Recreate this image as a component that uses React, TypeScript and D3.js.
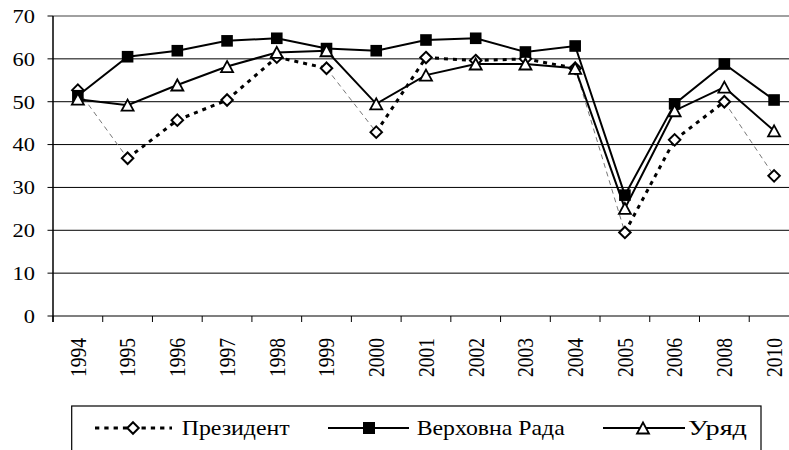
import React from "react";
import * as d3 from "d3";

const years = ["1994","1995","1996","1997","1998","1999","2000","2001","2002","2003","2004","2005","2006","2008","2010"];
const president = [52.7, 36.8, 45.7, 50.4, 60.4, 57.8, 42.9, 60.3, 59.6, 60.0, 57.8, 19.5, 41.1, 50.0, 32.7];
const rada = [51.4, 60.5, 61.9, 64.2, 64.8, 62.4, 61.9, 64.4, 64.8, 61.6, 63.0, 28.2, 49.5, 58.8, 50.4];
const uryad = [50.6, 49.2, 53.9, 58.2, 61.5, 61.9, 49.5, 56.2, 58.8, 58.8, 57.8, 25.1, 47.9, 53.4, 43.2];
const yTicks = [0, 10, 20, 30, 40, 50, 60, 70];
const legendLabels = ["Президент", "Верховна Рада", "Уряд"];

const FONT = "'Liberation Serif', 'Times New Roman', serif";

export default function App() {
  const W = 789, H = 450;
  const left = 53, top = 16, bottom = 316;
  const bandW = 49.73;
  const x = d3.scaleBand<string>().domain(years).range([left, left + bandW * years.length]).paddingInner(0).paddingOuter(0);
  const cx = (yr: string) => (x(yr) as number) + x.bandwidth() / 2;
  const y = d3.scaleLinear().domain([0, 70]).range([bottom, top]);
  const line = d3.line<number>().x((_, i) => cx(years[i])).y((v) => y(v));

  const triPath = (s: number) => {
    const h = s * 0.92;
    return `M0,${-h / 2}L${s / 2},${h / 2}L${-s / 2},${h / 2}Z`;
  };
  const diaPath = (s: number) => `M0,${-s / 2}L${s / 2},0L0,${s / 2}L${-s / 2},0Z`;

  const presSegs = president.slice(0, -1).map((v, i) => {
    const n = president[i + 1];
    const thin = n < v - 4;
    return { x1: cx(years[i]), y1: y(v), x2: cx(years[i + 1]), y2: y(n), thin };
  });

  const boundaries = years.map((yr) => x(yr) as number).concat([left + bandW * years.length]);

  return (
    <svg width={W} height={H} style={{ position: "absolute", left: 0, top: 0, background: "#fff", fontFamily: FONT }}>
      {/* gridlines */}
      {yTicks.filter((t) => t > 0 && t < 70).map((t) => (
        <line key={t} x1={left} x2={W} y1={y(t)} y2={y(t)} stroke="#000" strokeWidth={1} />
      ))}
      {/* top border */}
      <line x1={left} x2={W} y1={y(70)} y2={y(70)} stroke="#808080" strokeWidth={1.5} />
      {/* x axis */}
      <line x1={left} x2={W} y1={bottom} y2={bottom} stroke="#555" strokeWidth={1.5} />
      {boundaries.map((b, i) => (
        <line key={i} x1={b} x2={b} y1={bottom} y2={bottom + 6} stroke="#000" strokeWidth={1} />
      ))}
      {/* y axis */}
      <line x1={left} x2={left} y1={top} y2={bottom + 6} stroke="#000" strokeWidth={1.5} />
      {yTicks.map((t) => (
        <g key={t}>
          <line x1={left - 5.5} x2={left} y1={y(t)} y2={y(t)} stroke="#000" strokeWidth={1} />
          <text transform={`translate(35,${y(t)}) scale(1.15,1)`} textAnchor="end" dy="0.35em" fontSize={19.5} fill="#000">{t}</text>
        </g>
      ))}
      {years.map((yr) => (
        <text key={yr} transform={`translate(${cx(yr)},338) scale(1.15,1) rotate(-90)`} textAnchor="end" dy="0.35em" fontSize={19.5} fill="#000">{yr}</text>
      ))}

      {/* President */}
      {presSegs.map((s, i) => (
        <line key={i} x1={s.x1} y1={s.y1} x2={s.x2} y2={s.y2}
          stroke={s.thin ? "#777" : "#000"} strokeWidth={s.thin ? 1 : 3}
          strokeDasharray={s.thin ? "5,4" : "4,5"} />
      ))}
      {president.map((v, i) => (
        <path key={i} d={diaPath(11.5)} transform={`translate(${cx(years[i])},${y(v)})`} fill="#fff" stroke="#000" strokeWidth={2} />
      ))}

      {/* Rada */}
      <path d={line(rada) || ""} fill="none" stroke="#000" strokeWidth={2} />
      {rada.map((v, i) => (
        <rect key={i} x={cx(years[i]) - 5.8} y={y(v) - 5.8} width={11.6} height={11.6} fill="#000" />
      ))}

      {/* Uryad */}
      <path d={line(uryad) || ""} fill="none" stroke="#000" strokeWidth={2} />
      {uryad.map((v, i) => (
        <path key={i} d={triPath(12)} transform={`translate(${cx(years[i])},${y(v)})`} fill="#fff" stroke="#000" strokeWidth={1.8} />
      ))}

      {/* Legend */}
      <rect x={71.7} y={406} width={761 - 71.7} height={60} fill="#fff" stroke="#000" strokeWidth={1.2} />
      <g>
        <line x1={95} x2={172} y1={428} y2={428} stroke="#000" strokeWidth={3} strokeDasharray="4.3,5" />
        <path d={diaPath(11.5)} transform="translate(133,428)" fill="#fff" stroke="#000" strokeWidth={2} />
        <text x={181.7} y={434.5} fontSize={22} textLength={108} lengthAdjust="spacingAndGlyphs" fill="#000">{legendLabels[0]}</text>

        <line x1={328} x2={409} y1={428} y2={428} stroke="#000" strokeWidth={2} />
        <rect x={369 - 6} y={428 - 6} width={12} height={12} fill="#000" />
        <text x={416.7} y={434.5} fontSize={22} textLength={148} lengthAdjust="spacingAndGlyphs" fill="#000">{legendLabels[1]}</text>

        <line x1={603} x2={685} y1={428} y2={428} stroke="#000" strokeWidth={2} />
        <path d={triPath(12)} transform="translate(643,428)" fill="#fff" stroke="#000" strokeWidth={1.8} />
        <text x={688} y={434.5} fontSize={22} textLength={59} lengthAdjust="spacingAndGlyphs" fill="#000">{legendLabels[2]}</text>
      </g>
    </svg>
  );
}
